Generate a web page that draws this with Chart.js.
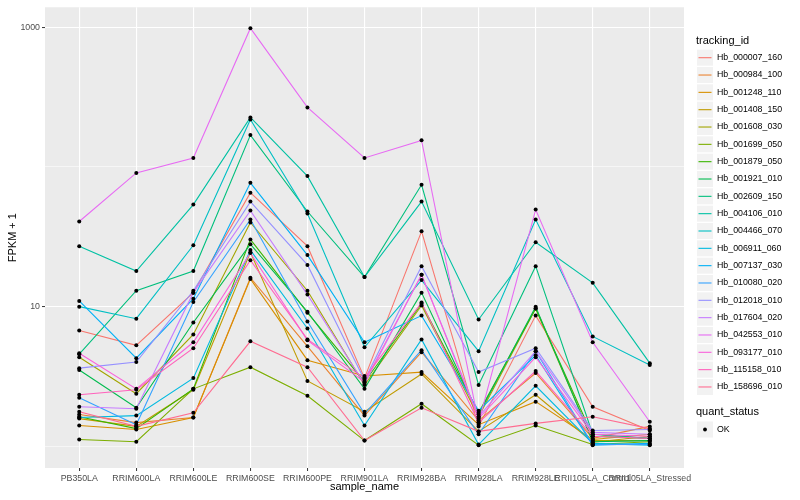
<!DOCTYPE html>
<html>
<head>
<meta charset="utf-8">
<script src="https://cdn.jsdelivr.net/npm/chart.js@4.4.1/dist/chart.umd.min.js"></script>
<style>
html, body { margin: 0; padding: 0; background: #ffffff; }
#wrap { width: 800px; height: 500px; }
</style>
</head>
<body>
<div id="wrap"><canvas id="fpkmChart" width="800" height="500"></canvas></div>
<script>
var samples = ['PB350LA', 'RRIM600LA', 'RRIM600LE', 'RRIM600SE', 'RRIM600PE', 'RRIM901LA',
               'RRIM928BA', 'RRIM928LA', 'RRIM928LE', 'RRII105LA_Control', 'RRII105LA_Stressed'];

var trackingIds = ['Hb_000007_160', 'Hb_000984_100', 'Hb_001248_110', 'Hb_001408_150', 'Hb_001608_030',
                   'Hb_001699_050', 'Hb_001879_050', 'Hb_001921_010', 'Hb_002609_150', 'Hb_004106_010',
                   'Hb_004466_070', 'Hb_006911_060', 'Hb_007137_030', 'Hb_010080_020', 'Hb_012018_010',
                   'Hb_017604_020', 'Hb_042553_010', 'Hb_093177_010', 'Hb_115158_010', 'Hb_158696_010'];

var colours = ['#F8766D', '#EA8331', '#D89000', '#C09B00', '#A3A500', '#7CAE00', '#39B600', '#00BB4E',
               '#00BF7D', '#00C1A3', '#00BFC4', '#00BAE0', '#00B0F6', '#35A2FF', '#9590FF', '#C77CFF',
               '#E76BF3', '#FA62DB', '#FF62BC', '#FF6C91'];

// FPKM + 1, one value per sample
var hb000007 = [6.76, 5.29, 12.6, 65.4, 27.1, 3.08, 34.6, 1.39, 8.63, 1.92, 1.3];
var hb000984 = [1.69, 1.48, 1.61, 16.1, 5.2, 1.66, 4.72, 1.53, 3.35, 1.14, 1.39];
var hb001248 = [1.41, 1.32, 1.61, 15.8, 4.14, 3.19, 3.4, 1.43, 2.09, 1.12, 1.22];
var hb001408 = [1.58, 1.39, 2.54, 24.5, 2.94, 1.77, 3.3, 1.28, 2.34, 1.07, 1.18];
var hb001608 = [4.35, 2.38, 6.33, 40.1, 13, 2.75, 10.2, 1.63, 9.7, 1.1, 1.1];
var hb001699 = [1.12, 1.08, 2.58, 3.69, 2.3, 1.1, 2.02, 1.02, 1.41, 1.03, 1.08];
var hb001879 = [1.63, 1.34, 2.58, 30.3, 9.06, 2.89, 10.5, 1.74, 9.7, 1.18, 1.14];
var hb001921 = [3.52, 1.89, 7.7, 28, 9.2, 2.58, 12.6, 1.69, 10, 1.08, 1.1];
var hb002609 = [4.57, 13, 18, 169, 48, 16.3, 74.5, 2.75, 19.5, 1.22, 1.14];
var hb004106 = [27.1, 18, 53.8, 226, 86, 16.3, 56.5, 8.09, 28.9, 14.8, 3.94];
var hb004466 = [10, 8.2, 27.5, 219, 46.5, 5.12, 15.5, 4.8, 42.1, 6.12, 3.82];
var hb006911 = [1.61, 1.66, 3.08, 25.4, 6.98, 1.41, 5.83, 1.03, 2.71, 1.05, 1.02];
var hb007137 = [11, 4.28, 11.4, 77, 23.4, 5.56, 8.63, 1.8, 4.49, 1.02, 1.05];
var hb010080 = [2.23, 1.43, 10.8, 42.1, 7.83, 1.71, 4.88, 1.22, 4.8, 1.03, 1.03];
var hb012018 = [3.63, 4.01, 13, 56.5, 19.9, 2.99, 19.5, 3.4, 5.04, 1.3, 1.32];
var hb017604 = [1.92, 1.86, 12.6, 48.7, 12.2, 2.8, 16.9, 1.63, 4.8, 1.26, 1.22];
var hb042553 = [40.7, 90.6, 116, 985, 267, 116, 155, 1.48, 49.5, 5.56, 1.5];
var hb093177 = [4.64, 2.58, 5.56, 24.2, 5.74, 2.89, 16.9, 1.58, 4.35, 1.22, 1.18];
var hb115158 = [2.34, 2.54, 5.04, 21.5, 5.83, 3.08, 10.7, 1.48, 3.46, 1.18, 1.14];
var hb158696 = [1.77, 1.39, 1.74, 5.65, 3.69, 1.1, 1.89, 1.28, 1.46, 1.63, 1.34];

var series = [hb000007, hb000984, hb001248, hb001408, hb001608, hb001699, hb001879, hb001921,
              hb002609, hb004106, hb004466, hb006911, hb007137, hb010080, hb012018, hb017604,
              hb042553, hb093177, hb115158, hb158696];

var yBreaks = [1, 10, 100, 1000];
var yLabels = {10: '10', 1000: '1000'};

Chart.defaults.font.family = '"Liberation Sans", Arial, sans-serif';

// grey panel behind the plot, like ggplot
var panelBg = {
    id: 'panelBg',
    beforeDraw: function(chart) {
        var a = chart.chartArea;
        var ctx = chart.ctx;
        ctx.save();
        ctx.fillStyle = '#EBEBEB';
        ctx.fillRect(a.left, a.top, a.right - a.left, a.bottom - a.top);
        ctx.restore();
    }
};

// two legends on the right side
var ggLegend = {
    id: 'ggLegend',
    afterDraw: function(chart) {
        var ctx = chart.ctx;
        ctx.save();
        ctx.textBaseline = 'middle';
        ctx.textAlign = 'left';
        ctx.fillStyle = '#000000';
        ctx.font = '11px "Liberation Sans", Arial, sans-serif';
        ctx.fillText('tracking_id', 696, 41);
        for (var i = 0; i < trackingIds.length; i++) {
            var cy = 57.7 + i * 17.33;
            ctx.fillStyle = '#F2F2F2';
            ctx.fillRect(697, cy - 8, 16, 16);
            ctx.strokeStyle = colours[i];
            ctx.lineWidth = 1.1;
            ctx.beginPath();
            ctx.moveTo(698.5, cy);
            ctx.lineTo(711.5, cy);
            ctx.stroke();
            ctx.fillStyle = '#000000';
            ctx.font = '8.8px "Liberation Sans", Arial, sans-serif';
            ctx.fillText(trackingIds[i], 717, cy);
        }
        ctx.font = '11px "Liberation Sans", Arial, sans-serif';
        ctx.fillText('quant_status', 696, 412);
        ctx.fillStyle = '#F2F2F2';
        ctx.fillRect(697, 421.5, 16, 16);
        ctx.fillStyle = '#000000';
        ctx.beginPath();
        ctx.arc(705, 429.5, 1.9, 0, Math.PI * 2);
        ctx.fill();
        ctx.font = '8.8px "Liberation Sans", Arial, sans-serif';
        ctx.fillText('OK', 717, 429.5);
        ctx.restore();
    }
};

function renderChart() {
    var datasets = series.map(function(vals, i) {
        return {
            label: trackingIds[i],
            data: vals.map(function(v, j) { return {x: j, y: v}; }),
            borderColor: colours[i],
            borderWidth: 1.1,
            pointRadius: 0,
            fill: false,
            tension: 0,
            order: series.length - i
        };
    });

    var allPoints = [];
    series.forEach(function(vals) {
        vals.forEach(function(v, j) { allPoints.push({x: j, y: v}); });
    });
    datasets.push({
        type: 'scatter',
        label: 'OK',
        data: allPoints,
        pointRadius: 2,
        pointBackgroundColor: '#000000',
        pointBorderWidth: 0,
        showLine: false,
        order: -1
    });

    var options = {
        responsive: false,
        animation: false,
        devicePixelRatio: 1,
        layout: { padding: { left: 0, right: 116, top: 5, bottom: 0 } },
        plugins: { legend: { display: false }, tooltip: { enabled: false } },
        scales: {
            x: {
                type: 'linear',
                min: -0.6,
                max: 10.6,
                afterBuildTicks: function(scale) {
                    scale.ticks = samples.map(function(s, i) { return {value: i}; });
                },
                afterFit: function(scale) { scale.height = 32; },
                ticks: {
                    autoSkip: false,
                    maxRotation: 0,
                    minRotation: 0,
                    padding: 2,
                    color: '#4D4D4D',
                    font: { size: 8.8 },
                    callback: function(v) { return samples[v]; }
                },
                grid: { color: '#FFFFFF', lineWidth: 1.1, tickLength: 3, tickColor: '#333333', tickWidth: 1 },
                border: { display: false },
                title: { display: true, text: 'sample_name', color: '#000000', font: { size: 11 },
                         padding: { top: 0, bottom: 6 } }
            },
            y: {
                type: 'logarithmic',
                min: 0.72,
                max: 1390,
                afterBuildTicks: function(scale) {
                    scale.ticks = yBreaks.map(function(v) { return {value: v}; });
                },
                afterFit: function(scale) { scale.width = 45; },
                ticks: {
                    padding: 2,
                    color: '#4D4D4D',
                    font: { size: 8.8 },
                    callback: function(v) { return yLabels[v] || ''; }
                },
                grid: {
                    color: '#FFFFFF',
                    lineWidth: function(c) { return (c.tick && yLabels[c.tick.value]) ? 1.1 : 0.55; },
                    tickLength: 3,
                    tickWidth: 1,
                    tickColor: function(c) { return (c.tick && yLabels[c.tick.value]) ? '#333333' : 'rgba(0,0,0,0)'; }
                },
                border: { display: false },
                title: { display: true, text: 'FPKM + 1', color: '#000000', font: { size: 11 },
                         padding: { top: 6, bottom: 0 } }
            }
        }
    };

    var context = document.getElementById('fpkmChart').getContext('2d');
    new Chart(context, {
        type: 'line',
        data: { datasets: datasets },
        options: options,
        plugins: [panelBg, ggLegend]
    });
}

renderChart();
</script>
</body>
</html>
